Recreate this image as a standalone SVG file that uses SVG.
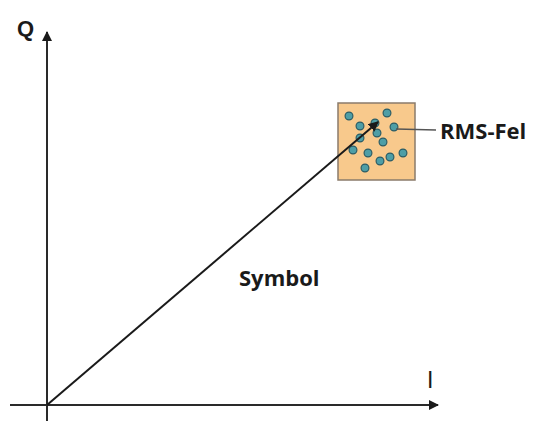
<svg xmlns="http://www.w3.org/2000/svg" width="535" height="421" viewBox="0 0 535 421">
<style>
.ax{stroke:#2a2a2a;stroke-width:2;fill:none}
.lbl{font-family:"Liberation Sans",Arial,sans-serif;fill:#1a1a1a}
.b{font-family:"Open Sans","Liberation Sans",sans-serif;font-weight:bold;fill:#1a1a1a}
.dot{fill:#4e9ea6;stroke:#2c5c64;stroke-width:1.2}
</style>
<defs>
<marker id="ah" viewBox="0 0 10 10" refX="9" refY="5" markerWidth="5" markerHeight="5" orient="auto"><path d="M0,0 L10,5 L0,10 z" fill="#1a1a1a"/></marker>
</defs>
<rect width="535" height="421" fill="#fff"/>
<g id="axes">
<line class="ax" x1="47" y1="421" x2="47" y2="32" marker-end="url(#ah)"/>
<line class="ax" x1="10" y1="405" x2="438" y2="405" marker-end="url(#ah)"/>
<text class="lbl" x="17" y="36" font-size="22" font-weight="bold">Q</text>
<text class="lbl" x="427" y="388" font-size="23">I</text>
</g>
<g id="cluster">
<rect x="338" y="103" width="77" height="77" fill="#f8c98c" stroke="#8a7b6b" stroke-width="1.5"/>
<circle class="dot" cx="349" cy="116" r="3.9"/>
<circle class="dot" cx="387" cy="113" r="3.9"/>
<circle class="dot" cx="360" cy="126" r="3.9"/>
<circle class="dot" cx="375" cy="123" r="3.9"/>
<circle class="dot" cx="394" cy="127" r="3.9"/>
<circle class="dot" cx="360" cy="138" r="3.9"/>
<circle class="dot" cx="377" cy="133" r="3.9"/>
<circle class="dot" cx="383" cy="142" r="3.9"/>
<circle class="dot" cx="353" cy="150" r="3.9"/>
<circle class="dot" cx="368" cy="153" r="3.9"/>
<circle class="dot" cx="380" cy="161" r="3.9"/>
<circle class="dot" cx="390" cy="157" r="3.9"/>
<circle class="dot" cx="403" cy="153" r="3.9"/>
<circle class="dot" cx="365" cy="168" r="3.9"/>
</g>
<g id="connectors">
<line x1="47" y1="405" x2="378" y2="122" stroke="#1a1a1a" stroke-width="2" marker-end="url(#ah)"/>
<line x1="396" y1="129" x2="436" y2="130" stroke="#555" stroke-width="1.5"/>
</g>
<g id="rms">
<text class="b" x="440" y="139" font-size="22">RMS-Fel</text>
</g>
<g id="symbol">
<text class="b" x="239" y="286" font-size="22">Symbol</text>
</g>
</svg>
